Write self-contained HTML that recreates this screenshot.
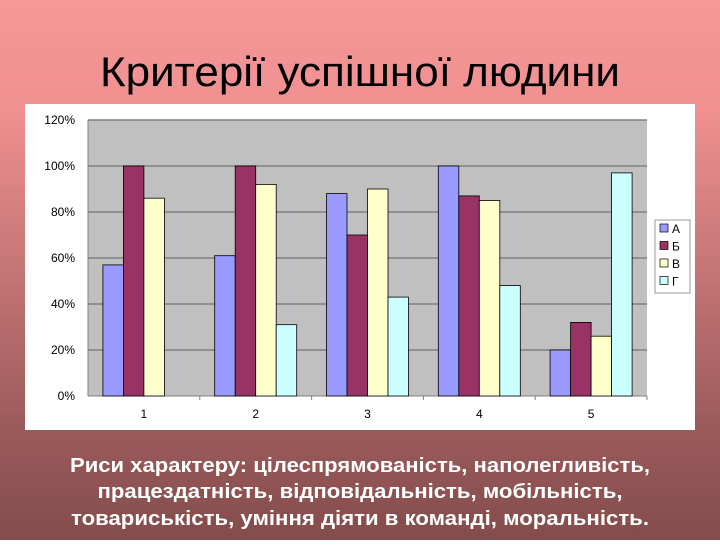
<!DOCTYPE html>
<html><head><meta charset="utf-8"><style>
body{margin:0;width:720px;height:540px;overflow:hidden;}
</style></head><body>
<svg width="720" height="540" xmlns="http://www.w3.org/2000/svg" style="font-family:'Liberation Sans',sans-serif">
<defs><linearGradient id="bg" x1="0" y1="0" x2="0" y2="1">
<stop offset="0" stop-color="#f69898"/><stop offset="0.2" stop-color="#f09090"/><stop offset="0.8" stop-color="#9a5a5a"/><stop offset="1" stop-color="#844c4c"/></linearGradient></defs>
<rect width="720" height="540" fill="url(#bg)"/>
<text x="360" y="86" text-anchor="middle" font-size="42" textLength="520" lengthAdjust="spacingAndGlyphs" fill="#000">Критерії успішної людини</text>
<rect x="25" y="104" width="670" height="326" fill="#fff"/>
<g id="chart"></g>
<g fill="#fff" font-weight="bold" font-size="20" text-anchor="middle">
<text x="360" y="472" textLength="580" lengthAdjust="spacingAndGlyphs">Риси характеру: цілеспрямованість, наполегливість,</text>
<text x="360" y="498" textLength="525" lengthAdjust="spacingAndGlyphs">працездатність, відповідальність, мобільність,</text>
<text x="360" y="525" textLength="578" lengthAdjust="spacingAndGlyphs">товариськість, уміння діяти в команді, моральність.</text>
</g>
</svg>
<script>
const categories=["1","2","3","4","5"];
const seriesNames=["А","Б","В","Г"];
const seriesA=[57,61,88,100,20];
const seriesB=[100,100,70,87,32];
const seriesV=[86,92,90,85,26];
const seriesG=[0,31,43,48,97];
const ticks=[0,20,40,60,80,100,120];
const colors=["#9999ff","#993366","#ffffcc","#ccffff"];
const NS="http://www.w3.org/2000/svg";
const g=document.getElementById('chart');
const X0=88,X1=647,Y0=396,Y1=120;
const y=v=>Y0-(v/120)*(Y0-Y1);
const cw=(X1-X0)/categories.length;
const x=i=>X0+cw*i;
function mk(t,a,p){const e=document.createElementNS(NS,t);for(const k in a)e.setAttribute(k,a[k]);(p||g).appendChild(e);return e;}
const pa=mk('rect',{x:X0,y:Y1,width:X1-X0,height:Y0-Y1,fill:'#c0c0c0'});


ticks.forEach(t=>{
 if(t>0){const l=mk('line',{x1:X0,x2:X1,y1:y(t),y2:y(t),stroke:'#808080','stroke-width':1.5});
 
 }
 const tx=mk('text',{x:X0-13,y:y(t)+4,'text-anchor':'end','font-size':12,fill:'#000'});
 tx.textContent=t+'%';
 
 
});
mk('line',{x1:X0,x2:X0,y1:Y1,y2:Y0,stroke:'#808080'});
mk('line',{x1:X0,x2:X1,y1:Y0,y2:Y0,stroke:'#808080'});
const all=[seriesA,seriesB,seriesV,seriesG];
const bw=20.5;
categories.forEach((c,i)=>{
 const start=x(i)+cw/2-2*bw;
 all.forEach((s,j)=>{
  if(s[i]<=0)return;
  const r=mk('rect',{x:start+j*bw,y:y(s[i]),width:bw,height:Y0-y(s[i]),fill:colors[j],stroke:'#000','stroke-width':0.8});
  
  
 });
 mk('line',{x1:x(i+1),x2:x(i+1),y1:Y0,y2:Y0+4,stroke:'#808080'});
 const tx=mk('text',{x:x(i)+cw/2,y:Y0+22,'text-anchor':'middle','font-size':12});
 tx.textContent=c;
 
 
});
const lg=mk('g',{});


mk('rect',{x:655,y:220,width:35,height:73,fill:'#fff',stroke:'#999'},lg);
seriesNames.forEach((n,j)=>{
 const yy=229+j*17.5;
 mk('rect',{x:660,y:yy-5,width:8,height:8,fill:colors[j],stroke:'#000','stroke-width':0.7},lg);
 const t=mk('text',{x:672,y:yy+4,'font-size':12},lg);
 t.textContent=n;
 
 
});
</script>
</body></html>
